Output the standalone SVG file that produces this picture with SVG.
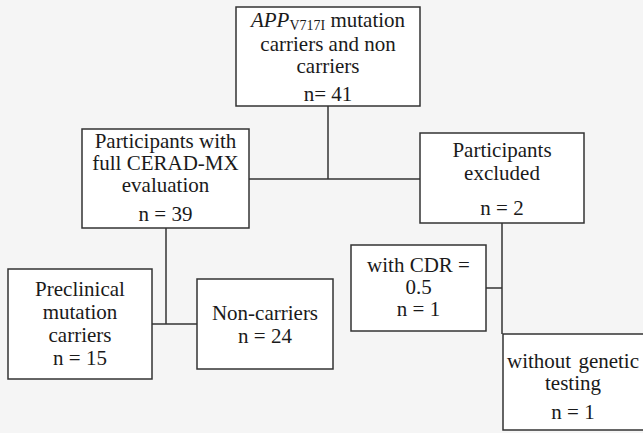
<svg xmlns="http://www.w3.org/2000/svg" width="643" height="433" viewBox="0 0 643 433">
<style>
.box{fill:#ffffff;stroke:#333333;stroke-width:1.5}
.t{font-size:21px;fill:#1a1a1a;text-anchor:middle}
.ln{stroke:#333333;stroke-width:1.5;fill:none}
</style>
<rect x="0" y="0" width="643" height="433" fill="#f5f5f5"/>
<g id="connectors">
<line class="ln" x1="328" y1="106" x2="328" y2="179"/>
<line class="ln" x1="249" y1="179" x2="420" y2="179"/>
<line class="ln" x1="166" y1="228" x2="166" y2="324"/>
<line class="ln" x1="152" y1="324" x2="197" y2="324"/>
<line class="ln" x1="502" y1="223" x2="502" y2="334"/>
<line class="ln" x1="486" y1="288" x2="502" y2="288"/>
</g>
<g font-family="'Liberation Serif', 'Times New Roman', 'DejaVu Serif', serif">
<g id="node-app">
<rect class="box" x="236" y="7" width="184" height="99"/>
<text class="t" x="328" y="27"><tspan font-style="italic">APP</tspan><tspan font-size="14" dy="3">V717I</tspan><tspan dy="-3"> mutation</tspan></text>
<text class="t" x="328" y="51">carriers and non</text>
<text class="t" x="328" y="73">carriers</text>
<text class="t" x="328" y="101">n= 41</text>
</g>
<g id="node-cerad">
<rect class="box" x="82" y="129" width="167" height="99"/>
<text class="t" x="165.5" y="148">Participants with</text>
<text class="t" x="165.5" y="170">full CERAD-MX</text>
<text class="t" x="165.5" y="192">evaluation</text>
<text class="t" x="165.5" y="221">n = 39</text>
</g>
<g id="node-excluded">
<rect class="box" x="420" y="133" width="164" height="90"/>
<text class="t" x="502" y="157">Participants</text>
<text class="t" x="502" y="180">excluded</text>
<text class="t" x="502" y="215">n = 2</text>
</g>
<g id="node-preclinical">
<rect class="box" x="8" y="269" width="144" height="110"/>
<text class="t" x="80" y="296">Preclinical</text>
<text class="t" x="80" y="319">mutation</text>
<text class="t" x="80" y="342">carriers</text>
<text class="t" x="80" y="365">n = 15</text>
</g>
<g id="node-noncarriers">
<rect class="box" x="197" y="279" width="136" height="90"/>
<text class="t" x="265" y="320">Non-carriers</text>
<text class="t" x="265" y="343">n = 24</text>
</g>
<g id="node-cdr">
<rect class="box" x="351" y="245" width="135" height="86"/>
<text class="t" x="418.5" y="272">with CDR =</text>
<text class="t" x="418.5" y="294">0.5</text>
<text class="t" x="418.5" y="316">n = 1</text>
</g>
<g id="node-nogenetic">
<rect class="box" x="503" y="334" width="145" height="96"/>
<text class="t" x="573" y="368" word-spacing="2">without genetic</text>
<text class="t" x="573" y="390">testing</text>
<text class="t" x="573" y="419">n = 1</text>
</g>
</g>
</svg>
